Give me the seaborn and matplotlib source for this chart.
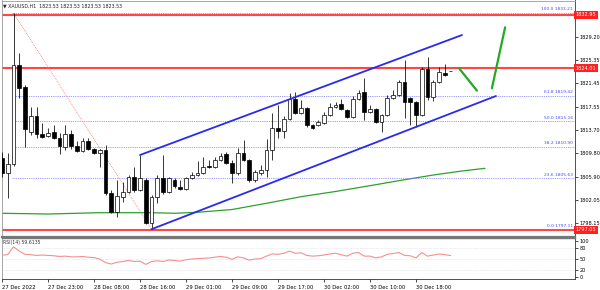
import numpy as np
import pandas as pd
import matplotlib
matplotlib.use("Agg")
import matplotlib.pyplot as plt
import matplotlib.transforms as mtransforms
import seaborn as sns

# ---------------- data ----------------
opens = [1809.00, 1806.50, 1808.00, 1824.53, 1820.85, 1813.34, 1816.01, 1813.01, 1812.67, 1813.34,
         1812.34, 1810.84, 1813.01, 1811.00, 1810.17, 1811.84, 1810.50, 1809.84, 1810.34, 1803.16,
         1799.99, 1802.49, 1803.32, 1805.83, 1803.66, 1805.33, 1798.15, 1802.49, 1805.66, 1803.32,
         1805.33, 1804.16, 1803.83, 1805.66, 1806.16, 1806.50, 1807.67, 1807.50, 1808.67, 1809.67,
         1808.17, 1806.50, 1809.84, 1808.67, 1805.33, 1806.50, 1807.00, 1810.34, 1814.01, 1813.51,
         1815.51, 1818.85, 1816.51, 1817.35, 1814.51, 1814.51, 1814.84, 1816.18, 1817.51, 1818.02,
         1817.01, 1815.85, 1818.85, 1820.02, 1816.68, 1817.18, 1815.01, 1816.18, 1819.02, 1819.52,
         1821.69, 1819.02, 1818.35, 1816.18, 1823.86, 1819.18, 1821.69, 1823.19, 1823.53]
highs = [1810.00, 1809.84, 1833.21, 1826.53, 1821.19, 1817.51, 1817.51, 1814.84, 1814.01, 1814.51,
         1813.17, 1814.51, 1813.68, 1811.84, 1812.34, 1812.34, 1810.67, 1810.50, 1811.17, 1803.66,
         1805.33, 1804.99, 1806.16, 1807.50, 1809.50, 1805.66, 1802.82, 1806.16, 1809.50, 1805.83,
         1805.66, 1805.33, 1805.83, 1806.66, 1808.50, 1809.17, 1808.67, 1809.17, 1809.84, 1810.00,
         1808.67, 1810.67, 1812.01, 1808.83, 1807.00, 1807.83, 1812.17, 1816.51, 1817.85, 1816.01,
         1819.85, 1820.02, 1818.68, 1817.51, 1814.68, 1815.34, 1816.68, 1818.18, 1818.35, 1818.85,
         1817.18, 1819.35, 1820.35, 1822.36, 1817.85, 1817.35, 1816.35, 1819.52, 1820.35, 1822.02,
         1825.36, 1819.18, 1818.52, 1824.19, 1825.86, 1822.02, 1824.19, 1824.69, 1823.53]
lows = [1805.83, 1802.32, 1807.67, 1819.02, 1810.84, 1812.84, 1812.34, 1812.34, 1812.51, 1812.17,
        1809.67, 1810.34, 1810.50, 1810.00, 1810.00, 1810.34, 1809.67, 1807.50, 1802.82, 1799.82,
        1799.15, 1801.66, 1803.16, 1803.32, 1803.49, 1797.98, 1797.11, 1801.49, 1802.99, 1803.16,
        1803.99, 1803.66, 1803.66, 1805.50, 1806.00, 1806.33, 1807.33, 1807.33, 1808.50, 1808.00,
        1804.83, 1806.16, 1808.50, 1804.99, 1804.99, 1806.16, 1805.83, 1808.67, 1812.34, 1812.34,
        1815.34, 1816.35, 1816.35, 1814.18, 1813.84, 1814.34, 1814.68, 1816.01, 1817.35, 1817.01,
        1815.68, 1815.68, 1818.68, 1815.34, 1816.51, 1814.84, 1813.34, 1816.01, 1818.85, 1819.35,
        1815.68, 1814.51, 1814.18, 1816.01, 1818.68, 1818.52, 1821.52, 1822.69, 1823.53]
closes = [1806.50, 1808.00, 1824.53, 1820.69, 1813.84, 1816.01, 1813.01, 1812.51, 1813.17, 1812.34,
          1811.00, 1813.01, 1811.00, 1810.17, 1811.84, 1810.50, 1809.84, 1810.34, 1803.16, 1799.99,
          1802.66, 1803.32, 1805.83, 1803.66, 1805.66, 1798.15, 1802.49, 1805.66, 1803.32, 1805.66,
          1804.33, 1803.83, 1805.66, 1806.16, 1806.50, 1807.50, 1807.50, 1808.67, 1809.33, 1808.17,
          1806.50, 1809.84, 1808.67, 1805.33, 1806.66, 1807.00, 1810.34, 1814.01, 1813.51, 1815.51,
          1818.85, 1816.51, 1817.35, 1814.51, 1814.01, 1815.01, 1816.18, 1817.51, 1817.85, 1817.18,
          1815.85, 1818.85, 1819.85, 1816.68, 1817.18, 1815.01, 1816.18, 1819.02, 1819.52, 1821.69,
          1818.35, 1818.35, 1816.18, 1823.86, 1819.18, 1821.69, 1823.36, 1822.86, 1823.53]

rsi_vals = [61, 62, 84, 72, 63, 62, 60, 61, 60, 59, 57, 58, 56, 56, 57, 55, 54, 50, 40, 36,
            41, 43, 46, 43, 44, 35, 43, 45, 43, 47, 46, 44, 48, 50, 51, 52, 53, 55, 57, 55,
            49, 56, 53, 47, 50, 51, 58, 64, 63, 66, 72, 66, 67, 60, 58, 59, 61, 64, 66, 62,
            58, 66, 68, 58, 58, 53, 56, 63, 65, 68, 60, 59, 53, 68, 58, 61, 64, 62, 59.61]

ma_idx = [0, 8, 17, 26, 30, 34, 40, 46, 52, 58, 64, 69, 75, 80, 84]
ma_vals = [1799.77, 1799.65, 1799.87, 1799.87, 1799.77, 1799.94, 1800.40, 1801.44,
           1802.54, 1803.41, 1804.38, 1805.21, 1806.16, 1806.83, 1807.28]

price_ticks = [1798.15, 1802.05, 1805.90, 1809.80, 1813.70, 1817.55, 1821.45, 1825.35, 1829.20]
red_levels = [1832.95, 1824.01, 1797.05]

fib_low, fib_high = 1797.11, 1833.21
fib_pcts = [0.0, 23.6, 38.2, 50.0, 61.8, 100.0]
fib_start_idx = 2
fib_end_idx = 26

chan_upper_x = [24, 80]
chan_upper_y = [1809.50, 1829.53]
chan_lower_x = [26, 85.9]
chan_lower_y = [1797.11, 1819.35]

zig1_x = [79.5, 82.6]
zig1_y = [1823.97, 1820.24]
zig2_x = [85.2, 87.5]
zig2_y = [1820.64, 1830.82]

xtick_idx = [0, 8, 16, 24, 32, 40, 48, 56, 64, 72]
xtick_labels = ["27 Dec 2022", "27 Dec 23:00", "28 Dec 08:00", "28 Dec 16:00", "29 Dec 01:00",
                "29 Dec 09:00", "29 Dec 17:00", "30 Dec 02:00", "30 Dec 10:00", "30 Dec 18:00"]
rsi_ticks = [0, 20, 50, 80, 100]
title_text = "XAUUSD,H1  1823.53 1823.53 1823.53 1823.53"
rsi_text = "RSI(14) 59.6135"

# ---------------- layout ----------------
sns.set_style("white")
plt.rcParams["font.family"] = ["DejaVu Sans"]

W, H = 600, 290
fig = plt.figure(figsize=(6, 2.9), dpi=100)
left_px, right_px = 1.5, 574.5
main_top, main_bot = 0.5, 236.5
rsi_top, rsi_bot = 237.5, 279.3

def fx(px):
    return px / W

def fy(py):
    return 1 - py / H

ax = fig.add_axes([fx(left_px), fy(main_bot), fx(right_px - left_px), (main_bot - main_top) / H])
axr = fig.add_axes([fx(left_px), fy(rsi_bot), fx(right_px - left_px), (rsi_bot - rsi_top) / H], sharex=ax)

bar_px, bar0_px = 5.75, 2.0
xlim = ((left_px - bar0_px) / bar_px, (right_px - bar0_px) / bar_px)
ax.set_xlim(*xlim)

k = 0.16694  # price per pixel
ax.set_ylim(1829.20 - (main_bot - 37) * k, 1829.20 + (37 - main_top) * k)
rsi_k = 0.36
axr.set_ylim(-(rsi_bot - 277) / rsi_k, (277 - rsi_top) / rsi_k)

# ---------------- main chart ----------------
df = pd.DataFrame(dict(i=np.arange(len(opens)), o=opens, h=highs, l=lows, c=closes))
up = df.c >= df.o
ax.vlines(df.i, df.l, df.h, color="black", lw=0.55, zorder=3)
ax.bar(df.i, (df.c - df.o).abs(), bottom=np.minimum(df.o, df.c), width=0.66,
       color=np.where(up, "white", "black"), edgecolor="black", linewidth=0.5, zorder=4)

# moving average
sns.lineplot(x=ma_idx, y=ma_vals, ax=ax, color="#2ea02e", lw=0.9, zorder=2)

# red horizontal levels
for v in red_levels:
    ax.axhline(v, color="#ff4545", lw=1.5, zorder=2)
    ax.text(1.002, v, f"{v:.2f}", transform=mtransforms.blended_transform_factory(ax.transAxes, ax.transData),
            ha="left", va="center", fontsize=3.6, color="white", clip_on=False, zorder=10,
            bbox=dict(boxstyle="square,pad=0.3", fc="#ff2020", ec="none"))

# fibonacci levels
for p in fib_pcts:
    lvl = fib_low + (fib_high - fib_low) * p / 100
    ax.hlines(lvl, fib_start_idx - 0.2, xlim[1], color="#7777ff", lw=0.6, linestyles=(0, (1, 1.2)), zorder=2)
    ax.text(xlim[1] - 0.3, lvl + 0.25, f"{p:.1f} {lvl:.2f}", ha="right", va="bottom",
            fontsize=3.2, color="#4a4aff", zorder=5)
sns.lineplot(x=[fib_start_idx, fib_end_idx], y=[fib_high, fib_low], ax=ax, color="#ff7070",
             lw=0.6, linestyle=(0, (1, 1.2)), zorder=2)

# channel
sns.lineplot(x=chan_upper_x, y=chan_upper_y, ax=ax, color="#2a2aee", lw=1.3, zorder=5)
sns.lineplot(x=chan_lower_x, y=chan_lower_y, ax=ax, color="#2a2aee", lw=1.3, zorder=5)

# green arrows path
sns.lineplot(x=zig1_x, y=zig1_y, ax=ax, color="#22aa22", lw=1.6, zorder=5)
sns.lineplot(x=zig2_x, y=zig2_y, ax=ax, color="#22aa22", lw=1.6, zorder=5)

ax.yaxis.tick_right()
ax.set_yticks(price_ticks)
ax.set_yticklabels([f"{v:.2f}" for v in price_ticks], fontsize=3.6)
ax.tick_params(axis="y", length=2, width=0.5, pad=1.5, colors="black", right=True, left=False)
ax.tick_params(axis="x", bottom=False, labelbottom=False)
for s in ["left", "top"]:
    ax.spines[s].set_color("#999999")
    ax.spines[s].set_linewidth(0.6)
ax.spines["right"].set_color("#333333")
ax.spines["right"].set_linewidth(0.6)
ax.spines["bottom"].set_color("#777777")
ax.spines["bottom"].set_linewidth(1.6)
ax.set_xlabel("")
ax.set_ylabel("")

fig.text(fx(3), fy(5.5), "\u25BC " + title_text, fontsize=3.4, color="#222222", va="center", ha="left")

# ---------------- RSI ----------------
for lv in [20, 50, 80]:
    axr.axhline(lv, color="#d8d8d8", lw=0.5, linestyle=(0, (1, 1.5)), zorder=1)
sns.lineplot(x=np.arange(len(rsi_vals)), y=rsi_vals, ax=axr, color="#f39090", lw=0.8, zorder=3)
axr.text(0.003, 0.93, rsi_text, transform=axr.transAxes, fontsize=3.3, color="#333333", va="top", ha="left")
axr.yaxis.tick_right()
axr.set_yticks(rsi_ticks)
axr.set_yticklabels([str(t) for t in rsi_ticks], fontsize=3.6)
axr.tick_params(axis="y", length=2, width=0.5, pad=1.5, colors="black", right=True, left=False)
axr.set_xticks(xtick_idx)
axr.set_xticklabels(xtick_labels, fontsize=3.8, ha="left")
axr.tick_params(axis="x", length=2.5, width=0.5, pad=1.5, colors="black", bottom=True)
for s in ["left"]:
    axr.spines[s].set_color("#999999")
    axr.spines[s].set_linewidth(0.6)
axr.spines["top"].set_color("#777777")
axr.spines["top"].set_linewidth(1.0)
axr.spines["right"].set_color("#333333")
axr.spines["right"].set_linewidth(0.6)
axr.spines["bottom"].set_color("#333333")
axr.spines["bottom"].set_linewidth(0.6)
axr.set_xlabel("")
axr.set_ylabel("")
axr.set_xlim(*xlim)

fig.savefig("out.png", dpi=100, facecolor="white")
